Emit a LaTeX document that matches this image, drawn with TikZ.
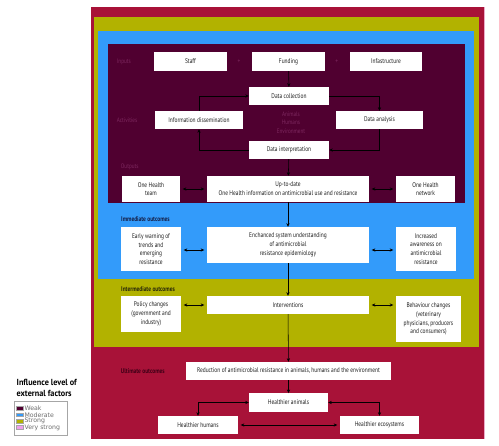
\documentclass[tikz,border=0pt]{standalone}
\usepackage{fontspec}
\setmainfont{PT Sans}[FakeStretch=0.8]
\newfontfamily\legfont{DejaVu Sans}
\newfontfamily\titlefont{PT Sans}[FakeStretch=0.93]
\usetikzlibrary{arrows.meta}
\definecolor{cdark}{RGB}{80,0,48}
\definecolor{cblue}{RGB}{51,155,250}
\definecolor{colive}{RGB}{178,178,0}
\definecolor{cred}{RGB}{168,18,56}
\definecolor{cpink}{RGB}{238,160,236}
\definecolor{cpinkedge}{RGB}{236,170,200}
\definecolor{clabdark}{RGB}{125,40,95}
\definecolor{clabblue}{RGB}{20,30,70}
\definecolor{clabolive}{RGB}{40,40,10}
\definecolor{clabred}{RGB}{62,0,22}
\definecolor{ctext}{RGB}{30,30,30}
\begin{document}
\begin{tikzpicture}[x=1pt,y=-1pt,
  wbox/.style={fill=white,draw=none,inner sep=0pt,align=center,text=ctext,
     font=\fontsize{6.8}{8.7}\selectfont},
  lab/.style={anchor=west,inner sep=0pt,font=\bfseries\fontsize{6.8}{8}\selectfont},
  arr/.style={draw=black,line width=0.55pt,-{Stealth[length=3.6pt,width=3.2pt]}},
  dbl/.style={draw=black,line width=0.55pt,{Stealth[length=3.6pt,width=3.2pt]}-{Stealth[length=3.6pt,width=3.2pt]}},
  dblg/.style={dbl,shorten <=2.5pt,shorten >=2.5pt},
  sw/.style={draw=gray!70,line width=0.3pt}
]
\useasboundingbox (0,0) rectangle (499,446);
% nested influence areas
\fill[cpinkedge] (91,7) rectangle (485.3,439.5);
\fill[cred] (91,7) rectangle (484,439.5);
\fill[colive] (93.5,17) rectangle (479,347);
\fill[cblue] (98,31) rectangle (474,279);
\fill[cdark] (108,44.5) rectangle (465,203);

% section labels
\node[lab,text=clabdark,font=\fontsize{6.5}{8}\selectfont] (linputs) at (116.7,61.7) {Inputs};
\node[lab,text=clabdark,font=\fontsize{6.5}{8}\selectfont] (lact) at (116.7,120) {Activities};
\node[lab,text=clabdark,font=\fontsize{6.5}{8}\selectfont] (lout) at (120.7,166.7) {Outputs};
\node[lab,text=clabblue] (limm) at (121,219) {Immediate outcomes};
\node[lab,text=clabolive] (lint) at (121,289) {Intermediate outcomes};
\node[lab,text=clabred] (lult) at (120.7,370.7) {Ultimate outcomes};

% inputs
\node[wbox,minimum width=73pt,minimum height=19pt] (staff) at (190.5,61.5) {Staff};
\node[wbox,minimum width=73pt,minimum height=19pt] (funding) at (288.5,61.5) {Funding};
\node[wbox,minimum width=72pt,minimum height=19pt] (infra) at (386,61.5) {Infastructure};
\node[text=clabdark,inner sep=0pt,font=\fontsize{6.8}{8}\selectfont] (plus1) at (239,61.7) {+};
\node[text=clabdark,inner sep=0pt,font=\fontsize{6.8}{8}\selectfont] (plus2) at (336.7,61.7) {+};

% activities
\node[wbox,minimum width=80pt,minimum height=18pt] (collect) at (289,96) {Data collection};
\node[wbox,minimum width=88pt,minimum height=18pt] (dissem) at (199,120) {Information dissemination};
\node[wbox,minimum width=87pt,minimum height=18pt] (analysis) at (379.5,120) {Data analysis};
\node[wbox,minimum width=80pt,minimum height=18pt] (interp) at (289,150) {Data interpretation};
\node[inner sep=0pt,align=center,text=clabdark,font=\fontsize{6.5}{8.3}\selectfont] (aheu) at (291,122.5) {Animals\\Humans\\Environment};

% outputs
\node[wbox,minimum width=58pt,minimum height=26pt] (team) at (151,189) {One Health\\team};
\node[wbox,minimum width=162pt,minimum height=26pt] (uptodate) at (288,189) {Up-to-date\\One Health information on antimicrobial use and resistance};
\node[wbox,minimum width=59pt,minimum height=26pt] (network) at (425.5,189) {One Health\\network};

% immediate outcomes
\node[wbox,minimum width=60pt,minimum height=44pt] (early) at (151,249) {Early warning of\\trends and\\emerging\\resistance};
\node[wbox,minimum width=162pt,minimum height=36pt] (enhanced) at (288,245) {Enchanced system understanding\\of antimicrobial\\resistance epidemiology};
\node[wbox,minimum width=60pt,minimum height=44pt] (aware) at (426,249) {Increased\\awareness on\\antimicrobial\\resistance};

% intermediate outcomes
\node[wbox,minimum width=60pt,minimum height=36pt] (policy) at (151,314) {Policy changes\\(government and\\industry)};
\node[wbox,minimum width=162pt,minimum height=18pt] (interv) at (288,305) {Interventions};
\node[wbox,minimum width=65pt,minimum height=46pt] (behav) at (428.5,319) {Behaviour changes\\(veterinary\\physicians, producers\\and consumers)};

% ultimate outcomes
\node[wbox,minimum width=205pt,minimum height=18pt] (reduct) at (288.5,371) {Reduction of antimicrobial resistance in animals, humans and the environment};
\node[wbox,minimum width=79pt,minimum height=18.5pt] (animals) at (288.5,402.5) {Healthier animals};
\node[wbox,minimum width=80pt,minimum height=18pt] (humans) at (198,425) {Healthier humans};
\node[wbox,minimum width=79pt,minimum height=18pt] (ecos) at (379.5,425) {Healthier ecosystems};

% connectors
\draw[arr] (funding) -- (collect);
\draw[arr] (dissem.north) |- (collect.west);
\draw[arr] (collect.east) -| (analysis.north);
\draw[arr] (analysis.south) |- (interp.east);
\draw[arr] (interp.west) -| (dissem.south);
\draw[arr] (interp) -- (uptodate);
\draw[dblg] (team.east) -- (uptodate.west);
\draw[dblg] (uptodate.east) -- (network.west);
\draw[arr] (uptodate) -- (enhanced);
\draw[dblg] ([yshift=-1pt]early.east) -- ([yshift=-1pt]early.east -| enhanced.west);
\draw[dblg] ([yshift=-1pt]aware.west -| enhanced.east) -- ([yshift=-1pt]aware.west);
\draw[arr] (enhanced) -- (interv);
\draw[dblg] (policy.east |- interv.east) -- (interv.west);
\draw[dblg] (interv.east) -- (interv.east -| behav.west);
\draw[arr] (interv) -- (reduct);
\draw[arr] (reduct) -- (animals);
\draw[dbl] (animals.west) -| (humans.north);
\draw[dbl] (animals.east) -| (ecos.north);
\draw[dblg] (humans.east) -- (ecos.west);

% legend
\node[anchor=west,inner sep=0pt,font=\titlefont\bfseries\fontsize{8.8}{10}\selectfont,text=black] (ltitle1) at (16.5,382) {Influence level of};
\node[anchor=west,inner sep=0pt,font=\titlefont\bfseries\fontsize{8.8}{10}\selectfont,text=black] (ltitle2) at (16.5,393.5) {external factors};
\draw[gray!70,line width=0.4pt] (14,401.5) rectangle (67.5,435);
\foreach \c/\t/\yy/\n in {cdark/Weak/408.3/lw, cblue/Moderate/414.7/lm, colive/Strong/421.1/ls, cpink/Very strong/427.5/lv}{
  \fill[\c,sw] (16.5,\yy-1.9) rectangle (23.2,\yy+1.9);
  \node[anchor=west,inner sep=0pt,text=gray!85!black,font=\legfont\fontsize{6.2}{7}\selectfont] (\n) at (24.3,\yy) {\t};
}
\end{tikzpicture}
\end{document}
